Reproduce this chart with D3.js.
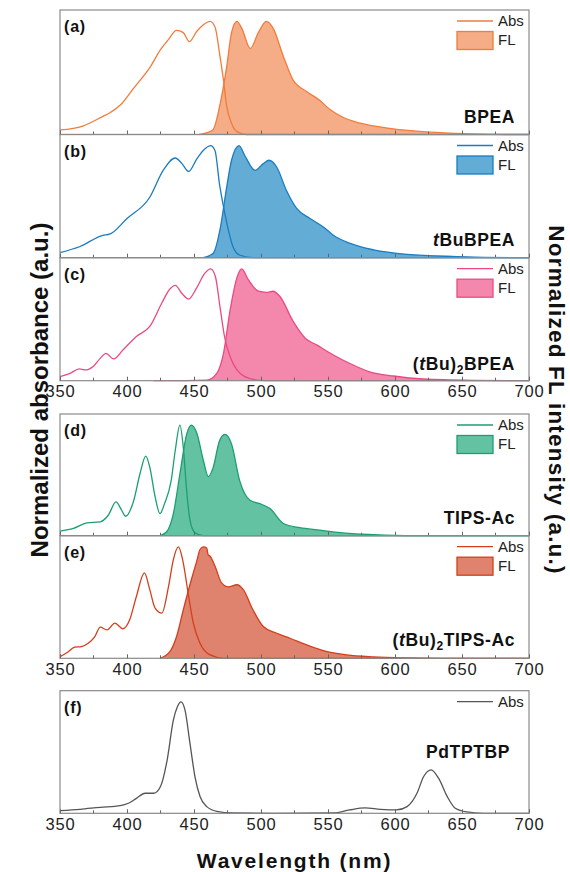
<!DOCTYPE html>
<html><head><meta charset="utf-8">
<script src="https://cdn.jsdelivr.net/npm/d3@7"></script>
<style>body{margin:0;background:#fff}svg{display:block}</style>
</head><body>
<svg id="c" width="570" height="872"></svg>
<script>
// wavelength ticks
const xTicks = [350, 400, 450, 500, 550, 600, 650, 700];
const panelLetters = ["(a)", "(b)", "(c)", "(d)", "(e)", "(f)"];
const compounds = ["BPEA", "tBuBPEA", "(tBu)2BPEA", "TIPS-Ac", "(tBu)2TIPS-Ac", "PdTPTBP"];

// [nm, normalized value]
const absBPEA = [[350,0.04],[367,0.075],[382,0.16],[387,0.19],[395,0.26],[405,0.41],[417,0.59],[425,0.75],[431,0.84],[437,0.92],[442,0.9],[446.5,0.82],[452,0.91],[457,0.97],[462,1.0],[465.7,0.95],[469.4,0.69],[472,0.48],[474.4,0.25],[478,0.1],[482,0.025],[489,0],[700,0]];
const flBPEA = [[454,0],[464,0.04],[470,0.3],[474.4,0.6],[478,0.9],[482,1.0],[485.6,0.94],[492,0.76],[498,0.9],[504,1.0],[509,0.94],[516.7,0.69],[524,0.48],[534,0.38],[544,0.3],[551.5,0.22],[561.5,0.15],[574,0.1],[596,0.055],[621,0.025],[646,0.01],[683,0],[700,0]];

const absTBuBPEA = [[350,0.045],[365,0.1],[382,0.2],[387,0.21],[400,0.35],[417,0.54],[427,0.78],[436,0.89],[441,0.84],[446,0.77],[452,0.88],[458,0.97],[462.4,1.0],[465.7,0.955],[469,0.66],[472.6,0.42],[475.6,0.25],[479,0.1],[484,0.024],[494,0],[700,0]];
const flTBuBPEA = [[457,0],[464.4,0.04],[469.4,0.25],[474.4,0.63],[478,0.87],[483.6,1.0],[488,0.91],[495.5,0.78],[501.7,0.84],[506,0.87],[511.7,0.81],[519,0.6],[526.6,0.44],[536.6,0.35],[546.5,0.275],[554,0.2],[566,0.13],[584,0.07],[609,0.03],[646,0.01],[696,0],[700,0]];

const absTBu2BPEA = [[350,0.036],[357.5,0.066],[364.4,0.105],[368.7,0.096],[375,0.13],[380,0.2],[384.3,0.245],[390,0.195],[397,0.275],[407,0.395],[417,0.485],[426,0.695],[432,0.82],[436,0.853],[441,0.78],[446,0.73],[452,0.83],[458,0.96],[462.4,1.0],[466,0.93],[469.4,0.66],[473,0.38],[477,0.215],[482,0.096],[488,0.036],[497,0.006],[509,0],[700,0]];
const flTBu2BPEA = [[420,0],[459.5,0.006],[467,0.066],[472,0.245],[477,0.635],[482,0.92],[485.6,1.0],[490.5,0.904],[498,0.8],[504,0.79],[509,0.8],[514,0.755],[524,0.53],[533,0.38],[541.5,0.32],[554,0.23],[566,0.156],[581,0.08],[599,0.042],[621,0.015],[658,0.003],[696,0],[700,0]];

const absTIPSAc = [[350,0.042],[360,0.066],[370,0.116],[380,0.125],[386,0.185],[391.8,0.305],[396,0.23],[399,0.176],[404.7,0.305],[409.7,0.56],[414,0.72],[417,0.62],[421,0.35],[424.6,0.2],[428,0.29],[433,0.5],[436,0.77],[439.5,1.0],[442,0.8],[444.5,0.41],[447,0.14],[450.7,0.027],[457,0],[700,0]];
const flTIPSAc = [[424.6,0],[429.6,0.036],[434.6,0.2],[439.5,0.56],[444.5,0.916],[448,1.0],[452,0.93],[457,0.68],[460.7,0.534],[464.4,0.62],[469,0.857],[473,0.916],[478,0.83],[484,0.5],[491.8,0.32],[499,0.29],[506.7,0.245],[516.7,0.11],[529,0.072],[544,0.05],[559,0.027],[584,0.009],[614,0],[700,0]];

const absTBu2TIPSAc = [[350,0.015],[355,0.05],[361,0.1],[366,0.105],[371,0.135],[376,0.195],[380,0.28],[385,0.255],[391,0.315],[397,0.264],[402,0.345],[407,0.555],[413,0.766],[417,0.616],[421,0.45],[426,0.405],[431,0.645],[434.6,0.886],[438.4,1.0],[441.5,0.886],[446,0.555],[449.5,0.315],[454.5,0.135],[462,0.03],[472,0],[700,0]];
const flTBu2TIPSAc = [[424.6,0],[432,0.06],[437,0.195],[442,0.435],[448,0.705],[452,0.87],[454.5,0.976],[457,1.0],[459.5,0.99],[460.5,0.93],[462,0.916],[465.7,0.826],[470.6,0.676],[475.6,0.64],[482,0.66],[486.8,0.616],[494,0.435],[501.7,0.285],[511.7,0.225],[521.6,0.18],[534,0.12],[546.5,0.069],[564,0.03],[584,0.012],[609,0.003],[634,0],[700,0]];

const absPdTPTBP = [[350,0.024],[365,0.036],[380,0.054],[395,0.069],[401,0.09],[407,0.134],[413.5,0.18],[420,0.18],[425,0.24],[430,0.48],[434.6,0.836],[437.6,0.955],[440.3,1.0],[443.3,0.925],[447,0.627],[450.7,0.33],[454.5,0.15],[459.5,0.06],[467,0.018],[479,0.003],[509,0],[554,0.003],[566,0.03],[577.6,0.048],[589,0.036],[601,0.03],[609,0.06],[616.4,0.18],[621.4,0.33],[627,0.39],[632.6,0.313],[639,0.15],[645,0.045],[653.5,0.012],[666,0],[700,0]];

const absSeries = [absBPEA, absTBuBPEA, absTBu2BPEA, absTIPSAc, absTBu2TIPSAc, absPdTPTBP];
const flSeries = [flBPEA, flTBuBPEA, flTBu2BPEA, flTIPSAc, flTBu2TIPSAc, null];
const strokeColors = ["#f17c3b", "#1a7cc1", "#ea4a84", "#1b9e73", "#d53e1b", "#555555"];
const fillColors = ["#f4ad86", "#63acd6", "#f387ac", "#63c2a1", "#df836e", null];

const svg = d3.select("#c");
const left = 60, right = 529;
const panels = [[10,134.5],[134.5,257.7],[257.7,380.7],[414,535.7],[535.7,658.3],[690.7,813.3]];
const showTickLabels = [false,false,true,false,true,true];
const x = d3.scaleLinear().domain([350,700]).range([left,right]);
const font = "Arial, 'Liberation Sans', sans-serif";

panels.forEach((p, i) => {
  const [top, bot] = p;
  const y = d3.scaleLinear().domain([0, 1.1]).range([bot, top]);
  const g = svg.append("g");
  const line = d3.line().x(d => x(d[0])).y(d => y(d[1])).curve(d3.curveMonotoneX);
  const area = d3.area().x(d => x(d[0])).y0(y(0)).y1(d => y(d[1])).curve(d3.curveMonotoneX);
  if (flSeries[i]) {
    g.append("path").datum(flSeries[i]).attr("d", area).attr("fill", fillColors[i]);
    g.append("path").datum(flSeries[i]).attr("d", line).attr("fill", "none").attr("stroke", strokeColors[i]).attr("stroke-width", 1.3);
  }
  g.append("path").datum(absSeries[i]).attr("d", line).attr("fill", "none").attr("stroke", strokeColors[i]).attr("stroke-width", 1.3);

  // frame
  g.append("rect").attr("x", left).attr("y", top).attr("width", right-left).attr("height", bot-top)
    .attr("fill", "none").attr("stroke", "#8a8a8a").attr("stroke-width", 1.2);

  // bottom axis with inward ticks
  const minor = d3.range(375, 700, 50);
  const ax = d3.axisBottom(x).tickValues(xTicks).tickSizeInner(-4).tickSizeOuter(0)
    .tickFormat(showTickLabels[i] ? d3.format("d") : () => "");
  const axG = g.append("g").attr("transform", `translate(0,${bot})`).call(ax);
  axG.select(".domain").remove();
  axG.selectAll(".tick line").attr("stroke", "#666");
  axG.selectAll(".tick text").attr("font-family", font).attr("font-size", 16.5).attr("letter-spacing", 0.8)
    .attr("fill", "#222").attr("dy", "0.71em").attr("y", 4.5);
  minor.forEach(v => {
    g.append("line").attr("x1", x(v)).attr("x2", x(v)).attr("y1", bot).attr("y2", bot-3).attr("stroke", "#666");
  });

  // panel letter
  g.append("text").attr("x", 64).attr("y", top + 22).attr("font-family", font).attr("font-weight", "bold")
    .attr("font-size", 16).attr("letter-spacing", 0.8).attr("fill", "#111").text(panelLetters[i]);

  // legend
  const lx1 = 457, lx2 = 493;
  g.append("line").attr("x1", lx1).attr("x2", lx2).attr("y1", top+11).attr("y2", top+11)
    .attr("stroke", strokeColors[i]).attr("stroke-width", 1.3);
  g.append("text").attr("x", 498).attr("y", top+16).attr("font-family", font).attr("font-size", 15)
    .attr("fill", "#222").text("Abs");
  if (flSeries[i]) {
    g.append("rect").attr("x", lx1).attr("y", top+21.5).attr("width", lx2-lx1).attr("height", 18)
      .attr("fill", fillColors[i]).attr("stroke", strokeColors[i]).attr("stroke-width", 1.3);
    g.append("text").attr("x", 498).attr("y", top+35).attr("font-family", font).attr("font-size", 15)
      .attr("fill", "#222").text("FL");
  }
});

// compound labels
function compoundLabel(i, xPos, yPos, anchor) {
  const t = svg.append("text").attr("x", xPos).attr("y", yPos).attr("text-anchor", anchor)
    .attr("font-family", font).attr("font-weight", "bold").attr("font-size", 17.5).attr("letter-spacing", 0.6).attr("fill", "#111");
  const name = compounds[i];
  if (name === "tBuBPEA") {
    t.append("tspan").attr("font-style", "italic").text("t");
    t.append("tspan").text("BuBPEA");
  } else if (name.startsWith("(tBu)2")) {
    t.append("tspan").text("(");
    t.append("tspan").attr("font-style", "italic").text("t");
    t.append("tspan").text("Bu)");
    t.append("tspan").attr("font-size", 12).attr("dy", 4).text("2");
    t.append("tspan").attr("dy", -4).text(name.slice(6));
  } else {
    t.text(name);
  }
}
compoundLabel(0, 515, panels[0][1]-11.5, "end");
compoundLabel(1, 515, panels[1][1]-11.5, "end");
compoundLabel(2, 515, panels[2][1]-11, "end");
compoundLabel(3, 515, panels[3][1]-12, "end");
compoundLabel(4, 515, panels[4][1]-12, "end");
compoundLabel(5, 468, 758, "middle");

// axis titles
svg.append("text").attr("x", left + (right-left)/2).attr("y", 868).attr("text-anchor", "middle")
  .attr("font-family", font).attr("font-weight", "bold").attr("font-size", 21).attr("fill", "#111")
  .attr("letter-spacing", 1.8).text("Wavelength (nm)");
svg.append("text").attr("transform", "translate(48,390) rotate(-90)").attr("text-anchor", "middle")
  .attr("font-family", font).attr("font-weight", "bold").attr("font-size", 24).attr("fill", "#111")
  .text("Normalized absorbance (a.u.)");
svg.append("text").attr("transform", "translate(549,400) rotate(90)").attr("text-anchor", "middle")
  .attr("font-family", font).attr("font-weight", "bold").attr("font-size", 22.5).attr("letter-spacing", 1.2).attr("fill", "#111")
  .text("Normalized FL intensity (a.u.)");
</script>
</body></html>
